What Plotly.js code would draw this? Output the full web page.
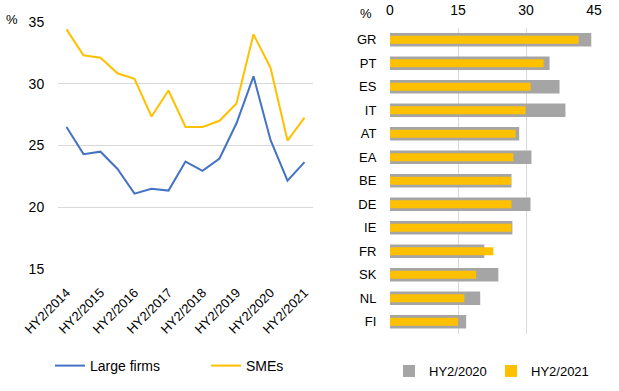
<!DOCTYPE html>
<html><head><meta charset="utf-8">
<script src="https://cdn.plot.ly/plotly-3.0.1.min.js"></script>
<style>html,body{margin:0;padding:0;background:#fff}#chart{width:619px;height:391px}</style>
</head><body><div id="chart"></div>
<script>
const periods = ["HY2/2014","HY1/2015","HY2/2015","HY1/2016","HY2/2016","HY1/2017","HY2/2017","HY1/2018","HY2/2018","HY1/2019","HY2/2019","HY1/2020","HY2/2020","HY1/2021","HY2/2021"];
const largeFirms = [26.5,24.3,24.5,23.1,21.1,21.5,21.35,23.7,22.95,23.95,26.8,30.6,25.45,22.15,23.65];
const smes = [34.4,32.3,32.1,30.85,30.4,27.35,29.45,26.5,26.5,27.0,28.4,34.0,31.3,25.4,27.25];
const tickPeriods = ["HY2/2014","HY2/2015","HY2/2016","HY2/2017","HY2/2018","HY2/2019","HY2/2020","HY2/2021"];
const countries = ["GR","PT","ES","IT","AT","EA","BE","DE","IE","FR","SK","NL","FI"];
const hy2020 = [44.4,35.2,37.4,38.7,28.5,31.2,26.8,31.0,27.0,20.8,23.9,19.9,16.8];
const hy2021 = [41.6,33.9,31.0,29.9,27.7,27.2,26.7,26.8,26.8,22.8,19.0,16.4,15.0];

const F = "Liberation Sans, Arial, sans-serif";
const data = [
  {type:"scatter", mode:"lines", x:periods, y:largeFirms, name:"Large firms", xaxis:"x", yaxis:"y",
   line:{color:"#4472C4", width:2}, legend:"legend"},
  {type:"scatter", mode:"lines", x:periods, y:smes, name:"SMEs", xaxis:"x", yaxis:"y",
   line:{color:"#FFC000", width:2}, legend:"legend"},
  {type:"bar", orientation:"h", y:countries, x:hy2020, name:"HY2/2020", xaxis:"x2", yaxis:"y2",
   marker:{color:"#A5A5A5"}, width:0.57, legend:"legend2"},
  {type:"bar", orientation:"h", y:countries, x:hy2021, name:"HY2/2021", xaxis:"x2", yaxis:"y2",
   marker:{color:"#FFC000"}, width:0.33, legend:"legend2"}
];
const layout = {
  width:619, height:391, margin:{l:0,r:0,t:0,b:0,autoexpand:false}, paper_bgcolor:"#fff", plot_bgcolor:"rgba(0,0,0,0)",
  font:{family:F, size:13, color:"#000"},
  barmode:"overlay",
  xaxis:{domain:[58/619,313/619], anchor:"y", type:"category", categoryorder:"array", categoryarray:periods,
    range:[-0.5,14.5], tickmode:"array", tickvals:tickPeriods, ticktext:tickPeriods, tickangle:-45,
    showgrid:false, zeroline:false, showline:false, ticks:"outside", ticklen:10, tickcolor:"rgba(0,0,0,0)",
    tickfont:{family:F, size:13}},
  yaxis:{domain:[1-269/391, 1-22/391], anchor:"x", range:[15,35], dtick:5, tick0:15,
    showgrid:true, gridcolor:"#D9D9D9", gridwidth:1, zeroline:false, showline:false,
    ticks:"outside", ticklen:10, tickcolor:"rgba(0,0,0,0)", tickfont:{family:F, size:14}},
  xaxis2:{domain:[390/619,594/619], anchor:"y2", side:"top", range:[0,45], dtick:15, tick0:0,
    showgrid:true, gridcolor:"#D9D9D9", zeroline:false, showline:false,
    ticks:"outside", ticklen:6, tickcolor:"rgba(0,0,0,0)", tickfont:{family:F, size:14}},
  yaxis2:{domain:[1-333.5/391, 1-28/391], anchor:"x2", type:"category", categoryorder:"array",
    categoryarray:countries, autorange:"reversed", showgrid:false, zeroline:false, showline:false,
    ticks:"outside", ticklen:10, tickcolor:"rgba(0,0,0,0)", tickfont:{family:F, size:13}},
  showlegend:true,
  legend:{orientation:"h", x:50/619, y:1-366/391, xanchor:"left", yanchor:"middle",
    entrywidth:111, font:{family:F, size:14}, bgcolor:"rgba(0,0,0,0)"},
  legend2:{orientation:"h", x:389/619, y:1-371/391, xanchor:"left", yanchor:"middle",
    entrywidth:57, font:{family:F, size:13}, bgcolor:"rgba(0,0,0,0)"},
  annotations:[
    {text:"%", xref:"paper", yref:"paper", x:12/619, y:1-20/391, showarrow:false, xanchor:"center", yanchor:"middle", font:{family:F,size:13}},
    {text:"%", xref:"paper", yref:"paper", x:366/619, y:1-13/391, showarrow:false, xanchor:"center", yanchor:"middle", font:{family:F,size:13}}
  ]
};
Plotly.newPlot("chart", data, layout, {staticPlot:true, displayModeBar:false});
</script></body></html>
